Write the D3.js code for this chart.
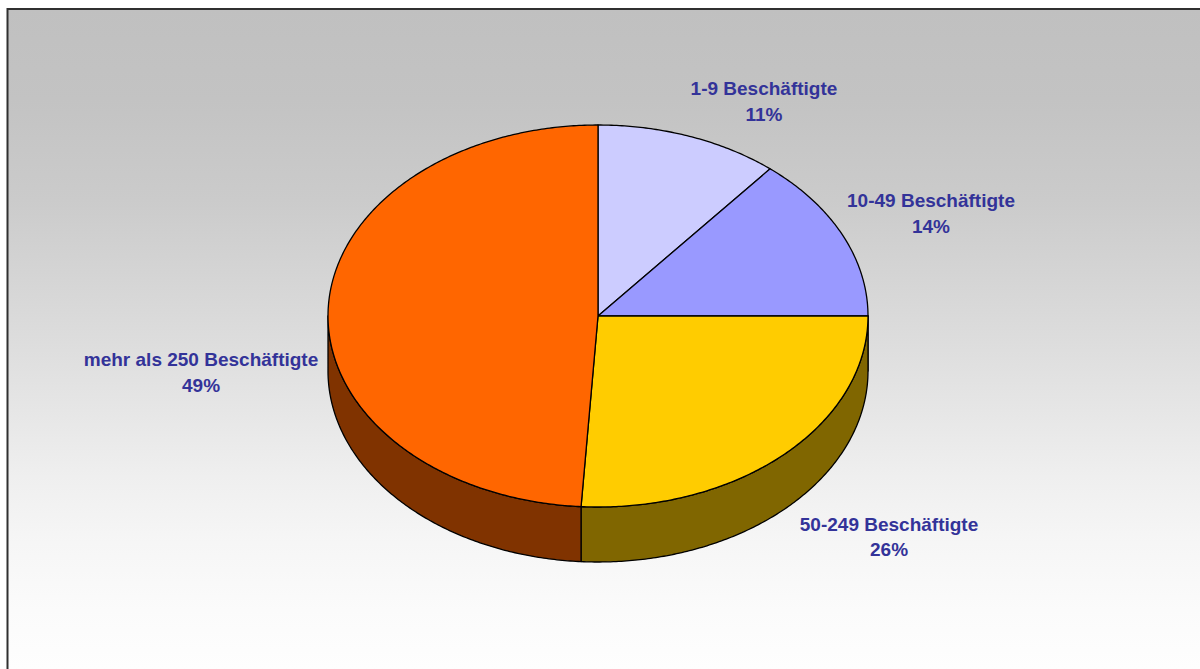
<!DOCTYPE html>
<html>
<head>
<meta charset="utf-8">
<script src="https://cdn.jsdelivr.net/npm/d3@7"></script>
<style>
  html, body { margin: 0; padding: 0; background: #ffffff; }
  svg { display: block; }
</style>
</head>
<body>
<svg id="chart" width="1200" height="669"></svg>
<script>
// Company size classes and their shares (percent)
const categories = ["1-9 Beschäftigte", "10-49 Beschäftigte", "50-249 Beschäftigte", "mehr als 250 Beschäftigte"];
const values = [11, 14, 26, 49];
const palette = ["#ccccff", "#9999ff", "#ffcc00", "#ff6600"];

const W = 1200, H = 669;
const svg = d3.select("#chart");

// Plot background: vertical grey-to-white gradient with dark frame
const defs = svg.append("defs");
const grad = defs.append("linearGradient")
  .attr("id", "bg").attr("gradientUnits", "userSpaceOnUse")
  .attr("x1", 0).attr("y1", 9).attr("x2", 0).attr("y2", 669);
[[9, "#c0c0c0"], [100, "#c3c3c3"], [200, "#cbcbcb"], [343, "#dddddd"], [410, "#e6e6e6"],
 [477, "#efefef"], [543, "#f6f6f6"], [610, "#fbfbfb"], [669, "#fefefe"]]
  .forEach(([y, c]) => grad.append("stop").attr("offset", (y - 9) / 660).attr("stop-color", c));

svg.append("rect")
  .attr("x", 7.5).attr("y", 9).attr("width", W + 20).attr("height", H - 9 + 30)
  .attr("fill", "url(#bg)")
  .attr("stroke", "#303030").attr("stroke-width", 2);

// 3D pie geometry
const cx = 598, cy = 316, rx = 270, ry = 191, depth = 55;
const pie = d3.pie().sort(null).value(d => d.value)
  .startAngle(0).endAngle(2 * Math.PI);
const data = categories.map((c, i) => ({ name: c, value: values[i], color: palette[i] }));
const arcs = pie(data);

const px = a => cx + rx * Math.sin(a);
const py = a => cy - ry * Math.cos(a);

function arcPoints(a0, a1, dy) {
  const n = Math.max(2, Math.ceil(Math.abs(a1 - a0) / 0.01));
  return d3.range(n + 1).map(k => {
    const a = a0 + (a1 - a0) * k / n;
    return [px(a), py(a) + dy];
  });
}

const line = d3.line();
const darken = c => { const r = d3.rgb(c); return d3.rgb(r.r * 0.5, r.g * 0.5, r.b * 0.5).formatHex(); };

const g = svg.append("g");

// Visible outer walls (front half of the ellipse: 90°..270°)
arcs.forEach(d => {
  const a0 = Math.max(d.startAngle, Math.PI / 2);
  const a1 = Math.min(d.endAngle, 3 * Math.PI / 2);
  if (a1 <= a0) return;
  const top = arcPoints(a0, a1, 0);
  const bottom = arcPoints(a1, a0, depth);
  g.append("path")
    .attr("d", line(top.concat(bottom)) + "Z")
    .attr("fill", darken(d.data.color))
    .attr("stroke", "#000").attr("stroke-width", 1.3)
    .attr("stroke-linejoin", "round");
});

// Top faces
arcs.forEach(d => {
  const pts = [[cx, cy]].concat(arcPoints(d.startAngle, d.endAngle, 0));
  g.append("path")
    .attr("d", line(pts) + "Z")
    .attr("fill", d.data.color)
    .attr("stroke", "#000").attr("stroke-width", 1.3)
    .attr("stroke-linejoin", "round");
});

// Data labels: category name and percentage, placed outside the slice edge
const labelNudge = [[74.5, -41], [88.7, -27.2], [106.2, 20.3], [-127.1, 56]];
arcs.forEach((d, i) => {
  const mid = (d.startAngle + d.endAngle) / 2;
  const front = Math.cos(mid) < 0 && Math.abs(Math.sin(mid)) < 0.95;
  const ex = px(mid), ey = py(mid) + (front ? depth : 0);
  const x = ex + labelNudge[i][0], y = ey + labelNudge[i][1];
  const t = svg.append("text")
    .attr("x", x).attr("y", y)
    .attr("text-anchor", "middle")
    .attr("font-family", "'Liberation Sans', Arial, sans-serif")
    .attr("font-weight", "bold")
    .attr("font-size", 19)
    .attr("fill", "#333399");
  t.append("tspan").attr("x", x).attr("y", y).text(d.data.name);
  t.append("tspan").attr("x", x).attr("y", y + 25.5).text(d3.format(".0%")(d.data.value / 100));
});
</script>
</body>
</html>
